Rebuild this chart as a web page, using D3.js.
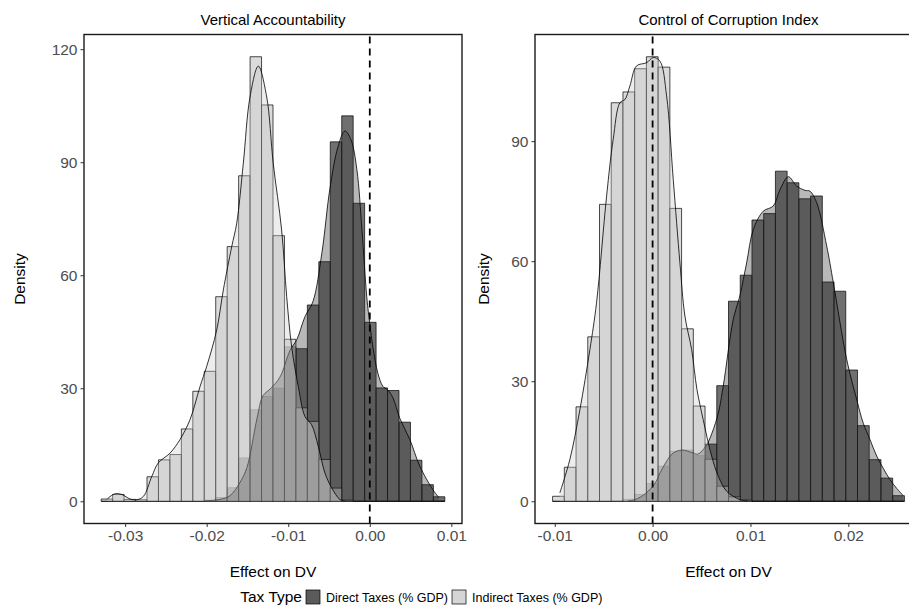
<!DOCTYPE html>
<html>
<head>
<meta charset="utf-8">
<script src="https://cdn.jsdelivr.net/npm/d3@7"></script>
<style>
  body { margin: 0; background: #fff; }
  text { font-family: "Liberation Sans", Arial, Helvetica, sans-serif; }
</style>
</head>
<body>
<div id="chart"></div>
<script>
// 30 bins per panel, shared by both tax types
const vaBinStart = -0.03294, vaBinWidth = 0.0014047;
const ccBinStart = -0.01022, ccBinWidth = 0.0011984;

const taxTypes = ["Direct Taxes (% GDP)", "Indirect Taxes (% GDP)"];

// histogram densities
const vaDirect = [0, 0, 0, 0, 0, 0, 0, 0, 0, 0.3, 1.0, 3.6, 11.5, 24.3, 27.8,
  30.0, 41.0, 40.5, 52.1, 63.6, 95.4, 102.3, 79.1, 47.5, 30.1, 29.4, 21.0, 10.9, 4.4, 1.2];
const vaIndirect = [0.6, 1.8, 0.5, 0.4, 6.5, 11.0, 12.4, 19.2, 29.2, 34.5, 54.3, 67.6, 86.4, 118.0, 105.2,
  70.5, 43.0, 24.8, 21.2, 11.1, 3.5, 0.3, 0, 0, 0, 0, 0, 0, 0, 0];
const ccDirect = [0, 0, 0, 0, 0, 0.1, 0.5, 1.7, 4.4, 8.75, 12.5, 12.8, 11.4, 14.3, 28.9,
  50.0, 56.5, 70.3, 71.9, 82.5, 79.6, 75.6, 76.3, 54.8, 52.5, 32.8, 18.9, 10.4, 5.8, 1.4];
const ccIndirect = [1.25, 8.5, 23.6, 41.1, 74.2, 99.6, 102.3, 108.1, 111.1, 108.5, 73.2, 43.1, 23.8, 10.5, 3.75,
  1.1, 0.3, 0, 0, 0, 0, 0, 0, 0, 0, 0, 0, 0, 0, 0];

// kernel density curves [effect, density]
const vaDensDirect = [[-0.02020,0.1],[-0.01837,0.5],[-0.01714,1.5],[-0.01592,5],[-0.01506,9],[-0.01383,22],
  [-0.01310,28],[-0.01212,30],[-0.01101,33],[-0.00979,40],[-0.00893,43],[-0.00795,49],[-0.00697,53],
  [-0.00587,66],[-0.00489,83],[-0.00391,94],[-0.00305,98.3],[-0.00231,96],[-0.00158,88],[-0.00096,72],
  [-0.00036,54],[0.00001,47],[0.00038,41],[0.00099,34],[0.00161,30.5],[0.00222,29.5],[0.00283,27.5],
  [0.00369,22],[0.00491,16.4],[0.00614,9.3],[0.00773,3.1],[0.00847,1]];
const vaDensIndirect = [[-0.03221,0.5],[-0.03205,0.9],[-0.03123,2.0],[-0.03041,1.8],[-0.02939,0.6],[-0.02857,0.4],
  [-0.02776,1.3],[-0.02673,6.6],[-0.02593,10.2],[-0.02449,12.8],[-0.02327,16.4],[-0.02204,21.7],[-0.02081,30.5],
  [-0.02000,35.8],[-0.01877,45.5],[-0.01796,56.1],[-0.01693,67.6],[-0.01632,73.8],[-0.01551,89.7],[-0.01469,107.3],
  [-0.01367,115.5],[-0.01264,107.3],[-0.01184,89.7],[-0.01081,72],[-0.01019,54.3],[-0.00958,41],[-0.00877,30.5],
  [-0.00795,22.5],[-0.00713,20.3],[-0.00632,14.6],[-0.00550,7.5],[-0.00468,3.6],[-0.00366,0.45],[-0.00305,0.05]];
const ccDensDirect = [[-0.00253,0.1],[-0.00181,0.4],[-0.00069,2],[0.00024,4.5],[0.00095,8],[0.00208,12],
  [0.00300,12.8],[0.00412,12.1],[0.00463,11.8],[0.00545,13.8],[0.00606,17],[0.00671,22],[0.00722,28.8],
  [0.00824,45.4],[0.00893,51.5],[0.00961,59.6],[0.01029,67.9],[0.01131,72.5],[0.01233,73.8],[0.01302,77.9],
  [0.01387,81.1],[0.01472,78.8],[0.01557,77.7],[0.01608,77.5],[0.01677,74.6],[0.01779,63.8],[0.01847,54.6],
  [0.01984,35.4],[0.02086,25.4],[0.02153,19.5],[0.02222,15.4],[0.02290,11.3],[0.02358,8.2],[0.02426,5.4],
  [0.02495,3.2],[0.02559,1.5]];
const ccDensIndirect = [[-0.00948,2.1],[-0.00846,10.4],[-0.00743,22.9],[-0.00641,37.9],[-0.00573,49.6],
  [-0.00470,76.3],[-0.00403,90.4],[-0.00334,99.6],[-0.00283,100.4],[-0.00232,103.8],[-0.00164,108.8],
  [-0.00061,109.6],[0.00006,110.9],[0.00075,110],[0.00143,101.3],[0.00211,80.4],[0.00279,59.6],[0.00330,46.3],
  [0.00399,37.9],[0.00453,28],[0.00517,20.4],[0.00603,11.3],[0.00671,6.3],[0.00757,2.5],[0.00893,0.4],[0.00974,0.05]];

const vaTicksX = [-0.03, -0.02, -0.01, 0, 0.01], vaTicksY = [0, 30, 60, 90, 120];
const ccTicksX = [-0.01, 0, 0.01, 0.02], ccTicksY = [0, 30, 60, 90];

const fills = ["#333333", "#cccccc"];
const histAlpha = 0.7, densAlpha = 0.35;

const svg = d3.select("#chart").append("svg")
  .attr("width", 909).attr("height", 613);

function drawPanel(p) {
  const n = p.hist[0].length;
  const binEnd = p.binStart + n * p.binWidth;
  const span = binEnd - p.binStart;
  const x = d3.scaleLinear()
    .domain([p.binStart - 0.05 * span, binEnd + 0.05 * span])
    .range([p.x0, p.x1]);
  const maxY = d3.max([...p.hist.flat(), ...p.dens.flat().filter((v, i) => i % 2)]);
  const y = d3.scaleLinear().domain([-0.05 * maxY, 1.05 * maxY]).range([p.y1, p.y0]);

  const g = svg.append("g");
  g.append("clipPath").attr("id", p.id)
    .append("rect").attr("x", p.x0).attr("y", p.y0)
    .attr("width", p.x1 - p.x0).attr("height", p.y1 - p.y0);
  const inner = g.append("g").attr("clip-path", `url(#${p.id})`);

  // histograms, direct first then indirect
  p.hist.forEach((vals, k) => {
    inner.append("g").selectAll("path").data(vals).join("path")
      .attr("d", (v, i) => {
        const a = x(p.binStart + i * p.binWidth), b = x(p.binStart + (i + 1) * p.binWidth);
        return `M${a},${y(0)}V${y(v)}H${b}V${y(0)}Z`;
      })
      .attr("fill", fills[k]).attr("fill-opacity", histAlpha)
      .attr("stroke", "#000").attr("stroke-width", 0.7);
  });

  // densities
  const area = d3.area().x(d => x(d[0])).y0(y(0)).y1(d => y(d[1])).curve(d3.curveCatmullRom);
  const line = d3.line().x(d => x(d[0])).y(d => y(d[1])).curve(d3.curveCatmullRom);
  p.dens.forEach((pts, k) => {
    inner.append("path").attr("d", area(pts))
      .attr("fill", fills[k]).attr("fill-opacity", densAlpha);
    inner.append("path").attr("d", line(pts))
      .attr("fill", "none").attr("stroke", "#000").attr("stroke-width", 0.8);
  });

  inner.append("line")
    .attr("x1", x(0)).attr("x2", x(0)).attr("y1", p.y1).attr("y2", p.y0)
    .attr("stroke", "#000").attr("stroke-width", 1.8).attr("stroke-dasharray", "7,5");

  g.append("rect").attr("x", p.x0).attr("y", p.y0)
    .attr("width", p.x1 - p.x0).attr("height", p.y1 - p.y0)
    .attr("fill", "none").attr("stroke", "#1a1a1a").attr("stroke-width", 1.4);

  // axes
  const xa = g.append("g").attr("transform", `translate(0,${p.y1})`)
    .call(d3.axisBottom(x).tickValues(p.ticksX).tickFormat(d => d.toFixed(2)).tickSize(3.5).tickPadding(3));
  const ya = g.append("g").attr("transform", `translate(${p.x0},0)`)
    .call(d3.axisLeft(y).tickValues(p.ticksY).tickSize(3.5).tickPadding(3));
  [xa, ya].forEach(a => {
    a.select(".domain").remove();
    a.selectAll(".tick line").attr("stroke", "#333").attr("stroke-width", 1);
    a.selectAll(".tick text").attr("fill", "#4d4d4d").attr("font-size", 15.5)
      .attr("font-family", "Liberation Sans, Arial, sans-serif");
  });

  const cx = (p.x0 + p.x1) / 2;
  g.append("text").attr("x", cx).attr("y", 25).attr("text-anchor", "middle")
    .attr("font-size", 15).text(p.title);
  g.append("text").attr("x", cx).attr("y", 577).attr("text-anchor", "middle")
    .attr("font-size", 15.5).text("Effect on DV");
  g.append("text").attr("transform", `translate(${p.yLabelX},279) rotate(-90)`)
    .attr("text-anchor", "middle").attr("font-size", 15.5).text("Density");
}

drawPanel({ id: "clipVA", title: "Vertical Accountability", x0: 84, x1: 462, y0: 34.5, y1: 523.5,
  binStart: vaBinStart, binWidth: vaBinWidth, hist: [vaDirect, vaIndirect],
  dens: [vaDensDirect, vaDensIndirect], ticksX: vaTicksX, ticksY: vaTicksY, yLabelX: 25 });
drawPanel({ id: "clipCC", title: "Control of Corruption Index", x0: 535, x1: 922, y0: 34.5, y1: 523.5,
  binStart: ccBinStart, binWidth: ccBinWidth, hist: [ccDirect, ccIndirect],
  dens: [ccDensDirect, ccDensIndirect], ticksX: ccTicksX, ticksY: ccTicksY, yLabelX: 489 });

// legend, laid out left to right from the title
const leg = svg.append("g");
leg.append("text").attr("x", 302).attr("y", 602).attr("text-anchor", "end")
  .attr("font-size", 15.5).text("Tax Type");
let cursor = 306;
taxTypes.forEach((t, k) => {
  leg.append("rect").attr("x", cursor).attr("y", 590).attr("width", 14).attr("height", 14)
    .attr("fill", fills[k]).attr("fill-opacity", histAlpha);
  leg.append("rect").attr("x", cursor).attr("y", 590).attr("width", 14).attr("height", 14)
    .attr("fill", fills[k]).attr("fill-opacity", densAlpha)
    .attr("stroke", "#000").attr("stroke-width", 0.7);
  const lab = leg.append("text").attr("x", cursor + 20).attr("y", 601.5)
    .attr("font-size", 12.5).text(t);
  cursor += 20 + lab.node().getComputedTextLength() + 4;
});
</script>
</body>
</html>
